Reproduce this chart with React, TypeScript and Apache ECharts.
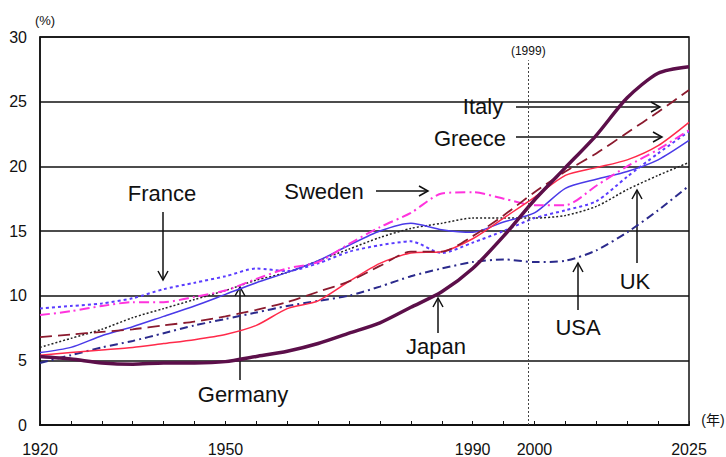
import React, { useEffect, useRef } from "react";
import * as echarts from "echarts";

const years = [1920, 1925, 1930, 1935, 1940, 1945, 1950, 1955, 1960, 1965, 1970, 1975, 1980, 1985, 1990, 1995, 2000, 2005, 2010, 2015, 2020, 2025];
const japan = [5.3, 5.1, 4.8, 4.7, 4.8, 4.8, 4.9, 5.3, 5.7, 6.3, 7.1, 7.9, 9.1, 10.3, 12.1, 14.6, 17.4, 19.9, 22.4, 25.3, 27.2, 27.7];
const italy = [6.8, 7.0, 7.2, 7.4, 7.7, 8.0, 8.4, 8.9, 9.5, 10.3, 11.1, 12.3, 13.4, 13.4, 14.6, 16.2, 18.0, 19.6, 21.0, 22.6, 24.2, 25.9];
const greece = [5.4, 5.6, 5.8, 6.0, 6.3, 6.6, 7.0, 7.7, 9.0, 9.6, 11.1, 12.5, 13.3, 13.4, 14.4, 16.0, 17.6, 19.3, 19.9, 20.5, 21.6, 23.4];
const france = [9.0, 9.2, 9.4, 9.8, 10.5, 11.0, 11.5, 12.1, 11.9, 12.5, 13.4, 13.9, 14.2, 13.3, 14.1, 15.0, 16.0, 16.6, 17.3, 19.2, 21.0, 22.7];
const germany = [5.6, 6.0, 6.9, 7.6, 8.4, 9.2, 10.1, 11.0, 11.8, 12.7, 13.9, 15.0, 15.6, 15.1, 14.9, 15.7, 16.4, 18.3, 19.0, 19.6, 20.5, 22.0];
const sweden = [8.5, 8.8, 9.2, 9.5, 9.5, 9.9, 10.4, 11.3, 12.1, 12.6, 14.0, 15.3, 16.4, 17.9, 18.0, 17.5, 17.0, 17.0, 18.5, 20.0, 21.3, 22.8];
const uk = [6.0, 6.7, 7.4, 8.3, 9.0, 9.7, 10.4, 11.2, 11.8, 12.7, 13.6, 14.5, 15.2, 15.6, 16.0, 16.0, 16.0, 16.2, 16.9, 18.2, 19.3, 20.3];
const usa = [4.8, 5.4, 6.0, 6.5, 7.1, 7.7, 8.2, 8.7, 9.2, 9.6, 10.0, 10.7, 11.5, 12.1, 12.6, 12.8, 12.6, 12.7, 13.5, 14.9, 16.6, 18.5];
const xLabelYears = [1920, 1950, 1990, 2000, 2025];
const markYear = 1999;

const FONT = '"Liberation Sans", Arial, "Noto Sans CJK JP", sans-serif';

function pairs(vals: number[]) {
  return years.map((y, i) => [y, vals[i]]);
}

function label(text: string, x: number, y: number, size = 22) {
  return {
    type: "text",
    x,
    y,
    style: { text, fontSize: size, fontFamily: FONT, fill: "#111", align: "center", verticalAlign: "middle" },
  };
}

function arrow(x1: number, y1: number, x2: number, y2: number) {
  const dx = x2 - x1, dy = y2 - y1;
  const len = Math.sqrt(dx * dx + dy * dy);
  const ux = dx / len, uy = dy / len;
  const h = 9, w = 5;
  const bx = x2 - ux * h, by = y2 - uy * h;
  return [
    { type: "line", shape: { x1, y1, x2, y2 }, style: { stroke: "#111", lineWidth: 1.5 } },
    {
      type: "polyline",
      shape: { points: [[bx - uy * w, by + ux * w], [x2, y2], [bx + uy * w, by - ux * w]] },
      style: { stroke: "#111", lineWidth: 1.5, fill: null },
    },
  ];
}

export default function App() {
  const ref = useRef<HTMLDivElement>(null);
  useEffect(() => {
    if (!ref.current) return;
    const chart = echarts.init(ref.current, null, { renderer: "svg" });
    const mk = (name: string, vals: number[], color: string, width: number, type: any) => ({
      name,
      type: "line",
      data: pairs(vals),
      symbol: "none",
      smooth: 0.25,
      lineStyle: { color, width, type },
      z: 3,
    });
    const option: any = {
      animation: false,
      backgroundColor: "#fff",
      grid: { left: 40, right: 37, top: 37, bottom: 32, show: true, borderColor: "#111", borderWidth: 1.5 },
      xAxis: {
        type: "value",
        min: 1920,
        max: 2025,
        interval: 5,
        axisLine: { lineStyle: { color: "#111", width: 2 } },
        axisTick: { show: true, inside: true, length: 4, lineStyle: { color: "#111" } },
        splitLine: { show: false },
        axisLabel: {
          margin: 16,
          fontSize: 16,
          fontFamily: FONT,
          color: "#111",
          showMinLabel: true,
          showMaxLabel: true,
          formatter: (v: number) => (xLabelYears.includes(v) ? String(v) : ""),
        },
      },
      yAxis: {
        type: "value",
        min: 0,
        max: 30,
        interval: 5,
        axisLine: { show: true, lineStyle: { color: "#111", width: 1.5 } },
        axisTick: { show: false },
        splitLine: { lineStyle: { color: "#111", width: 1.5 } },
        axisLabel: { margin: 13, fontSize: 16, fontFamily: FONT, color: "#111" },
      },
      series: [
        {
          ...mk("USA", usa, "#2b2a8c", 2, [8, 4, 2, 4]),
          markLine: {
            silent: true,
            symbol: ["none", "none"],
            lineStyle: { type: [2, 2], color: "#444", width: 1 },
            label: { show: true, position: "end", formatter: "(1999)", fontSize: 12, fontFamily: FONT, color: "#111", distance: 3 },
            data: [[{ coord: [markYear, 0] }, { coord: [markYear, 28.2] }]],
          },
        },
        mk("UK", uk, "#222222", 1.5, [2, 2]),
        mk("France", france, "#5a3cff", 2, [3, 3]),
        mk("Germany", germany, "#4a3ae8", 1.5, "solid"),
        mk("Sweden", sweden, "#ff33dd", 2, [10, 4, 2, 4]),
        mk("Greece", greece, "#ff2a4a", 1.5, "solid"),
        mk("Italy", italy, "#8b1a2e", 1.8, [12, 6]),
        { ...mk("Japan", japan, "#5c0f4a", 3.5, "solid"), z: 4 },
      ],
      graphic: [
        label("(%)", 45, 20, 13),
        label("(年)", 713, 420, 14),
        label("France", 162, 193),
        label("Sweden", 324, 191),
        label("Italy", 483, 106),
        label("Greece", 470, 138),
        label("Germany", 243, 394),
        label("Japan", 436, 346),
        label("USA", 578, 327),
        label("UK", 635, 281),
        ...arrow(163, 212, 163, 280),
        ...arrow(376, 191, 428, 191),
        ...arrow(516, 107, 660, 107),
        ...arrow(516, 137, 662, 137),
        ...arrow(240, 380, 240, 287),
        ...arrow(438, 333, 438, 298),
        ...arrow(578, 310, 578, 263),
        ...arrow(637, 263, 637, 190),
      ],
    };
    chart.setOption(option);
    return () => chart.dispose();
  }, []);
  return <div ref={ref} style={{ position: "fixed", left: 0, top: 0, width: 726, height: 457, background: "#fff" }} />;
}
